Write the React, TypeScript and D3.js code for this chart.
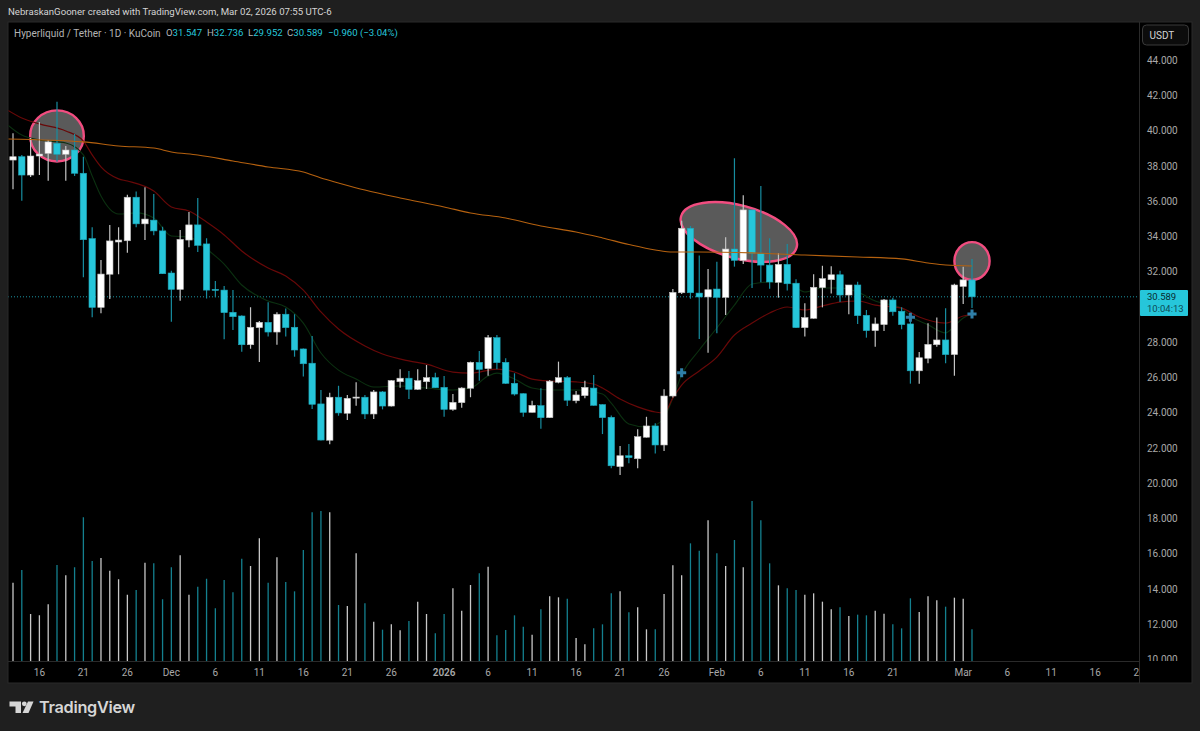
import * as d3 from "d3"
import React from "react"

// daily candles (bar 0 = Nov 13)
const opens = [38.35,38.54,37.50,38.58,38.73,39.30,38.68,38.92,37.60,33.89,29.99,31.87,33.70,33.77,36.24,34.73,34.94,34.33,31.94,31.01,33.81,34.67,33.59,31.01,30.97,29.71,29.50,27.87,28.84,29.14,28.59,29.60,28.86,27.63,26.82,24.51,22.45,24.89,23.98,24.84,24.89,23.94,25.19,24.39,25.77,25.97,25.34,25.77,26.00,25.45,24.20,24.58,25.40,26.87,26.51,28.27,26.87,25.68,25.09,24.03,24.41,23.73,25.74,26.00,24.69,24.98,25.41,24.47,23.75,20.95,21.57,21.40,22.62,23.26,22.18,24.96,30.82,34.48,30.80,30.58,31.03,30.56,33.30,32.66,35.52,33.06,32.39,31.41,32.43,31.36,28.84,29.37,31.11,31.56,31.84,30.69,31.26,29.54,28.67,29.01,30.41,29.77,29.05,26.39,27.10,27.87,28.14,27.31,31.18,31.547]
const highs = [39.87,38.64,39.60,40.51,39.49,41.66,39.15,39.83,38.54,34.53,32.68,34.67,34.53,36.38,36.56,36.81,36.42,34.57,32.07,34.38,35.40,36.19,33.91,31.49,31.20,30.97,29.54,29.99,29.22,30.28,29.71,29.92,29.60,27.66,28.36,25.30,25.15,25.54,25.02,25.74,25.02,25.30,25.24,25.87,26.48,26.38,26.48,26.72,26.28,26.09,25.07,25.45,26.91,27.51,28.42,28.42,27.10,26.25,25.11,24.69,25.40,25.87,26.91,26.09,25.24,25.83,26.15,24.49,23.86,22.12,22.24,23.07,23.78,23.41,25.34,31.03,34.91,34.61,32.94,32.17,32.58,33.97,38.45,36.35,35.52,36.88,33.91,33.06,33.59,31.58,30.22,31.87,32.35,32.32,32.07,31.26,31.45,29.84,29.41,30.46,30.54,30.00,29.65,27.46,29.09,29.41,29.94,31.33,32.30,32.736]
const lows = [36.69,36.04,37.39,37.50,37.18,38.26,37.18,37.45,31.70,29.43,29.65,30.46,31.87,33.09,34.54,33.81,34.08,31.88,29.17,30.37,33.40,33.13,30.50,30.56,28.18,28.70,27.47,27.64,26.89,28.33,27.87,28.33,27.19,26.06,24.22,22.44,22.22,23.84,23.60,24.41,23.65,23.65,24.20,24.37,25.43,24.79,25.30,25.36,25.41,23.78,24.12,24.29,24.89,25.83,26.11,26.48,25.64,24.98,23.78,24.02,23.10,23.71,25.68,24.39,24.55,24.83,24.41,22.80,20.86,20.48,21.14,20.86,22.60,21.69,21.84,24.87,30.75,30.48,28.20,27.42,28.52,29.56,32.30,32.45,31.09,31.41,31.05,30.54,30.94,28.82,28.33,29.35,29.99,30.77,30.29,29.60,29.05,28.27,27.76,28.65,29.52,28.75,25.66,25.66,26.82,27.76,26.82,26.11,30.18,29.952]
const closes = [38.54,37.50,38.58,38.69,39.38,38.68,38.92,37.60,33.83,29.99,31.88,33.76,33.81,36.24,34.73,35.00,34.33,31.90,31.01,33.85,34.67,33.51,30.97,30.96,29.69,29.46,27.87,28.86,29.14,28.59,29.60,28.84,27.57,26.79,24.49,22.46,24.89,24.00,24.83,24.90,23.94,25.19,24.39,25.83,25.97,25.34,25.83,26.00,25.43,24.20,24.60,25.41,26.87,26.47,28.27,26.85,25.68,25.07,24.03,24.43,23.73,25.80,26.00,24.72,25.02,25.45,24.43,23.73,21.00,21.57,21.46,22.65,23.26,22.18,24.96,30.84,34.48,30.82,30.58,30.99,30.56,33.30,32.66,35.52,33.06,32.39,31.43,32.43,31.33,28.84,29.41,31.13,31.62,31.84,30.69,31.26,29.52,28.67,29.05,30.41,29.74,29.01,26.39,27.13,27.89,28.14,27.31,31.26,31.55,30.589]
const volumes = [235,273,141,137,170,288,257,281,431,300,309,271,245,199,213,295,293,185,281,317,199,223,247,158,243,206,307,285,368,235,311,237,209,333,446,450,446,168,165,323,173,118,94,110,92,120,178,141,83,141,218,151,228,263,283,77,93,137,103,79,155,194,191,187,69,50,98,110,203,209,146,161,95,95,201,287,257,353,331,422,323,285,363,281,480,422,293,227,218,213,199,203,178,155,161,135,139,137,151,142,110,98,188,147,194,182,163,190,187,95]

// moving averages, read at these bars
const redDays = [-1,1,3,6,8,9,10,12,13,16,18,20,22,24,26,29,31,33,35,37,40,42,45,47,50,52,55,57,59,61,64,66,67,69,71,73,74,75,76,78,80,82,84,86,88,90,92,94,96,98,101,103,106,108,109]
const redValues = [41.30,40.74,40.40,40.00,39.43,38.64,37.96,37.28,37.16,36.59,35.69,35.46,34.83,34.10,33.19,32.22,31.77,30.97,29.73,28.76,27.80,27.34,26.95,26.77,26.32,26.26,26.49,26.32,25.92,25.81,25.76,25.64,25.41,24.79,24.34,24.05,24.00,24.85,25.58,26.38,27.17,28.42,29.10,29.67,30.01,29.84,30.07,30.29,30.35,30.12,29.95,29.44,29.10,29.50,29.56]
const greenDays = [-1,1,3,6,8,9,10,12,14,16,18,20,22,24,26,29,31,33,35,37,39,41,44,47,50,52,54,55,57,59,61,64,67,68,70,72,73,74,75,76,78,80,82,84,86,88,90,92,94,96,98,101,102,104,106,107,108,109]
const greenValues = [40.51,39.77,39.49,39.32,38.64,37.45,36.31,35.29,35.35,35.06,34.04,33.98,33.30,32.45,31.26,30.35,30.01,29.10,27.40,26.43,25.92,25.47,25.53,25.41,25.30,25.41,26.09,26.26,25.92,25.41,25.30,25.30,25.07,24.56,23.37,23.20,23.31,23.71,24.85,26.15,27.57,28.82,30.12,31.32,31.43,31.43,30.86,31.09,31.09,30.86,30.35,29.95,29.50,29.00,28.54,28.93,29.39,29.61]
const orangeDays = [-1,8,12,16,18,21,25,29,33,35,37,40,44,49,52,56,60,64,67,70,73,75,78,84,90,96,101,104,106,109]
const orangeValues = [39.55,39.38,39.15,39.03,38.81,38.64,38.30,37.96,37.67,37.33,37.05,36.65,36.20,35.69,35.35,35.06,34.61,34.27,33.93,33.56,33.25,33.13,33.13,33.08,32.96,32.85,32.74,32.51,32.39,32.34]

// drawn circles: centre bar / price, half width in bars, half height in price
const circleDays = [5, 82.5, 109]
const circlePrices = [39.72, 34.27, 32.62]
const circleHalfDays = [3.05, 6.8, 2.0]
const circleHalfPrices = [1.45, 1.5, 1.07]
const circleAngles = [0, 15, 0]

const crossDays = [76, 102, 109]
const crossPrices = [26.28, 29.43, 29.61]

// 30.000 is hidden behind the last price tag
const priceTicks = [44,42,40,38,36,34,32,28,26,24,22,20,18,16,14,12,10]
const timeDays = [3,8,13,18,23,28,33,38,43,49,54,59,64,69,74,80,85,90,95,100,108,113,118,123,128]
const timeLabels = ["16","21","26","Dec","6","11","16","21","26","2026","6","11","16","21","26","Feb","6","11","16","21","Mar","6","11","16","21"]

const width = 1200
const height = 731
const font = "Roboto, sans-serif"
const teal = "#26c6da"

const x = d3.scaleLinear([0, 109], [13, 972])
const y = d3.scaleLinear([10, 44], [659.6, 60.5])
const vol = d3.scaleLinear([0, 480], [661, 501])

const drawChart = (node: SVGSVGElement) => {
  const svg = d3.select(node)
  svg.selectAll("*").remove()

  svg.append("rect").attr("width", width).attr("height", height).attr("fill", "#1f1f1f")
  svg.append("rect").attr("x", 8).attr("y", 22).attr("width", 1184).attr("height", 661)
    .attr("fill", "#000").attr("stroke", "#2a2a2a")
  svg.append("line").attr("x1", 1139.5).attr("x2", 1139.5).attr("y1", 22).attr("y2", 683).attr("stroke", "#2a2a2a")
  svg.append("line").attr("x1", 8).attr("x2", 1139).attr("y1", 661.5).attr("y2", 661.5).attr("stroke", "#2a2a2a")

  const defs = svg.append("defs")
  defs.append("clipPath").attr("id", "pane").append("rect")
    .attr("x", 8.5).attr("y", 22).attr("width", 1130.5).attr("height", 639)
  defs.append("clipPath").attr("id", "time").append("rect")
    .attr("x", 8.5).attr("y", 662).attr("width", 1130.5).attr("height", 21)
  defs.append("clipPath").attr("id", "scale").append("rect")
    .attr("x", 1140).attr("y", 22).attr("width", 52).attr("height", 639)

  const pane = svg.append("g").attr("clip-path", "url(#pane)")
  const days = d3.range(closes.length)
  const isUp = (i: number) => closes[i] >= opens[i]

  // volume
  pane.append("g").selectAll("line").data(days).join("line")
    .attr("x1", (i) => x(i)).attr("x2", (i) => x(i))
    .attr("y1", (i) => vol(volumes[i])).attr("y2", vol(0))
    .attr("stroke", (i) => isUp(i) ? "#c8c8c8" : "#14808f")
    .attr("stroke-width", 1.3)

  // last price line
  pane.append("line")
    .attr("x1", 8).attr("x2", 1139)
    .attr("y1", y(closes[109])).attr("y2", y(closes[109]))
    .attr("stroke", teal).attr("stroke-opacity", 0.75).attr("stroke-dasharray", "1 2")

  // pink circles
  pane.append("g").selectAll("ellipse").data(circleDays).join("ellipse")
    .attr("transform", (d, i) => `translate(${x(d)},${y(circlePrices[i])}) rotate(${circleAngles[i]})`)
    .attr("rx", (d, i) => x(circleHalfDays[i]) - x(0))
    .attr("ry", (d, i) => y(0) - y(circleHalfPrices[i]))
    .attr("fill", "#5a5a5a").attr("stroke", "#f24d80").attr("stroke-width", 2.4)

  const maLine = (xs: number[], vs: number[], color: string, w: number) => {
    const line = d3.line<number>()
      .x((d) => x(d))
      .y((d, i) => y(vs[i]))
      .curve(d3.curveMonotoneX)
    pane.append("path").attr("d", line(xs)).attr("fill", "none").attr("stroke", color).attr("stroke-width", w)
  }
  maLine(greenDays, greenValues, "#0b3010", 1.1)
  maLine(redDays, redValues, "#680808", 1.2)

  // candles
  const candle = pane.append("g").selectAll("g").data(days).join("g")
  candle.append("line")
    .attr("x1", (i) => x(i)).attr("x2", (i) => x(i))
    .attr("y1", (i) => y(highs[i])).attr("y2", (i) => y(lows[i]))
    .attr("stroke", (i) => isUp(i) ? "#c4c4c4" : "#178da0")
    .attr("stroke-width", 1.2)
  candle.append("rect")
    .attr("x", (i) => x(i) - 3.2).attr("width", 6.4)
    .attr("y", (i) => y(Math.max(opens[i], closes[i])))
    .attr("height", (i) => Math.max(1, Math.abs(y(opens[i]) - y(closes[i]))))
    .attr("fill", (i) => isUp(i) ? "#fff" : teal)
    .attr("stroke", (i) => isUp(i) ? "#bdbdbd" : "#1fa5b8")
    .attr("stroke-width", 0.6)

  maLine(orangeDays, orangeValues, "#b5610f", 1.1)

  // blue plus markers
  pane.append("g").selectAll("path").data(crossDays).join("path")
    .attr("d", d3.symbol(d3.symbolCross, 46))
    .attr("transform", (d, i) => `translate(${x(d)},${y(crossPrices[i])})`)
    .attr("fill", "#2f7fa8")

  // price axis
  svg.append("g").attr("clip-path", "url(#scale)").selectAll("text").data(priceTicks).join("text")
    .attr("x", 1147).attr("y", (d) => y(d)).attr("dy", "0.35em")
    .attr("font-family", font).attr("font-size", 10).attr("fill", "#a8a8a8")
    .text((d) => d3.format(".3f")(d))

  // time axis
  svg.append("g").attr("clip-path", "url(#time)").selectAll("text").data(timeDays).join("text")
    .attr("x", (d) => x(d)).attr("y", 672).attr("dy", "0.35em").attr("text-anchor", "middle")
    .attr("font-family", font).attr("font-size", 10)
    .attr("font-weight", (d, i) => timeLabels[i] === "2026" ? 600 : 400)
    .attr("fill", "#a8a8a8")
    .text((d, i) => timeLabels[i])

  const label = (tx: number, ty: number, s: string, color: string, size = 10, parent: any = svg) =>
    parent.append("text").attr("x", tx).attr("y", ty).attr("dy", "0.35em")
      .attr("font-family", font).attr("font-size", size).attr("fill", color).text(s)

  // header
  label(8, 11.5, "NebraskanGooner created with TradingView.com, Mar 02, 2026 07:55 UTC-6", "#d4d4d4", 9.65)
  label(14, 33, "Hyperliquid / Tether · 1D · KuCoin", "#b4b4b4")
  const ohlc: [number, string, string][] = [
    [166, "O", "31.547"], [207, "H", "32.736"], [248, "L", "29.952"], [287, "C", "30.589"],
  ]
  ohlc.forEach(([tx, k, v]) => {
    const t = label(tx, 33, k, "#b4b4b4", 9.6)
    t.append("tspan").attr("fill", teal).text(v)
  })
  label(328, 33, "−0.960 (−3.04%)", teal, 9.6)

  // currency button
  svg.append("rect").attr("x", 1142.5).attr("y", 25).attr("width", 46).attr("height", 20).attr("rx", 4)
    .attr("fill", "#0c0c0c").attr("stroke", "#3a3a3a")
  label(1149.5, 35.5, "USDT", "#d4d4d4")

  // last price tag
  svg.append("rect").attr("x", 1140).attr("y", 290).attr("width", 48).attr("height", 26).attr("rx", 1).attr("fill", teal)
  label(1147, 296.5, "30.589", "#062a30", 9.5)
  label(1147, 309, "10:04:13", "#0d4a55", 9.5)

  // logo
  const logo = svg.append("g").attr("fill", "#d6d6d6")
  logo.append("path").attr("d", "M9.5 701.5H21V713H15.5V706.5H9.5Z")
  logo.append("circle").attr("cx", 24.3).attr("cy", 703.8).attr("r", 2.4)
  logo.append("path").attr("d", "M28 701.5H33.5L28.5 713H22.5Z")
  svg.append("text").attr("x", 39).attr("y", 707.5).attr("dy", "0.35em")
    .attr("font-family", "Inter, sans-serif").attr("font-size", 16.3).attr("font-weight", 600)
    .attr("letter-spacing", -0.3).attr("fill", "#d6d6d6").text("TradingView")
}

const App = () => {
  const ref = React.useRef<SVGSVGElement>(null)
  React.useEffect(() => {
    if (ref.current) drawChart(ref.current)
  }, [])
  return <svg ref={ref} width={width} height={height} style={{ position: "fixed", top: 0, left: 0, display: "block" }} />
}

export default App
